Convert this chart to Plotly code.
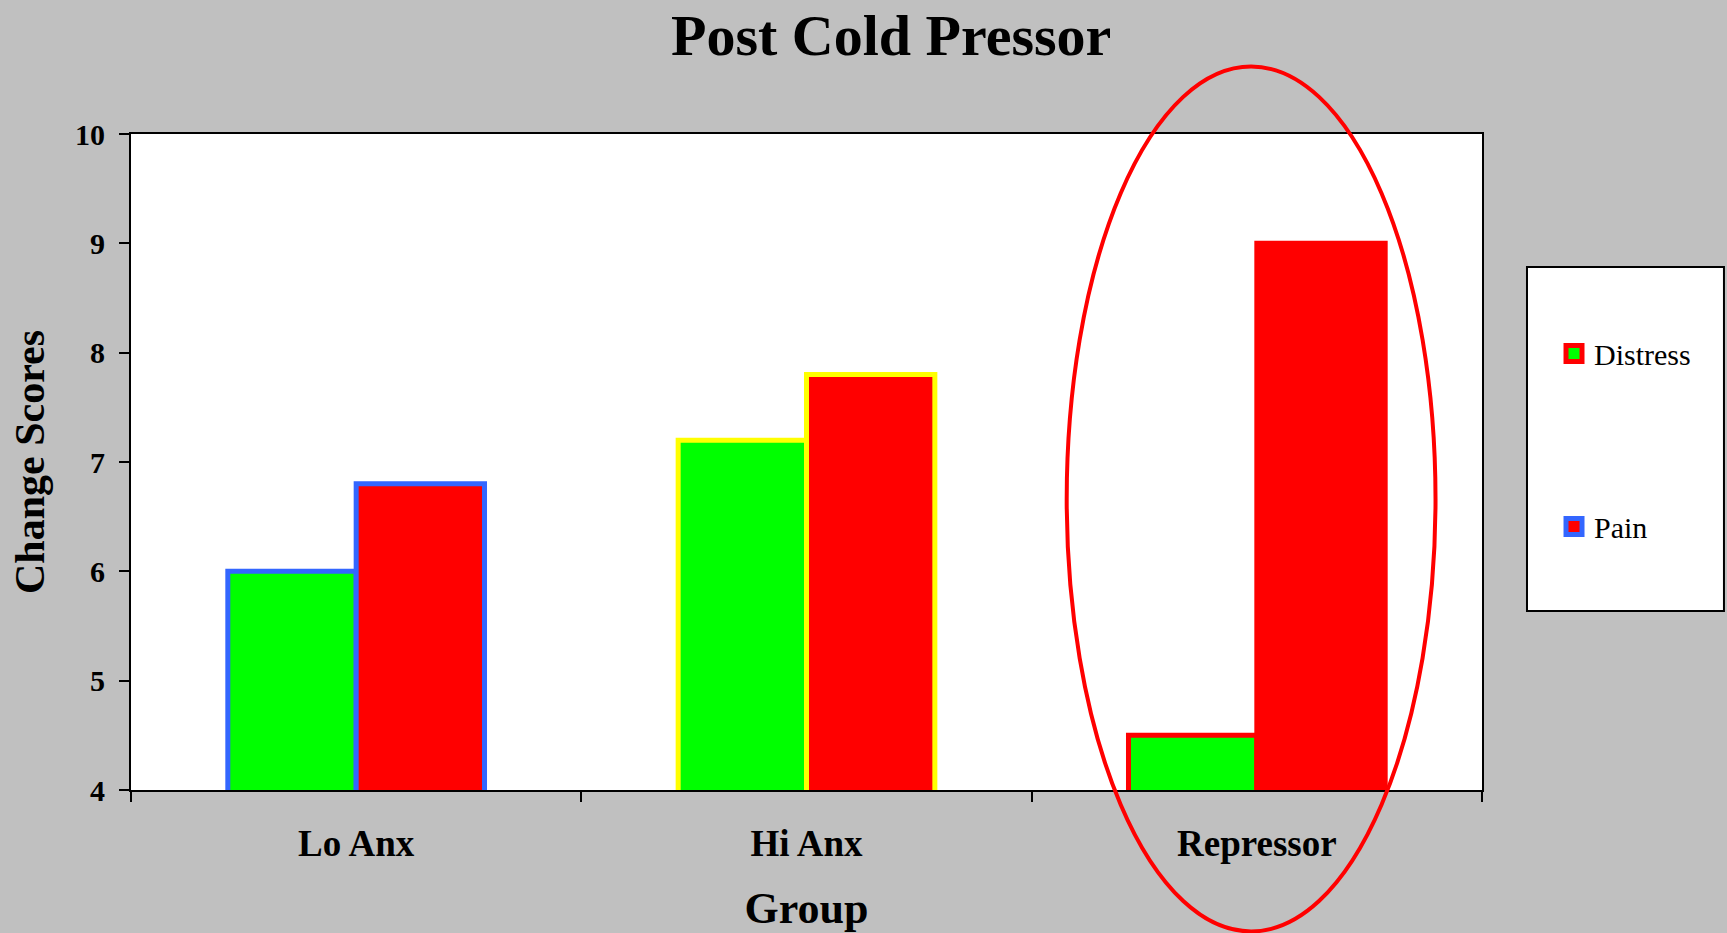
import plotly.graph_objects as go

# Data
groups = ["Lo Anx", "Hi Anx", "Repressor"]
distress = [6.0, 7.2, 4.5]
pain = [6.8, 7.8, 9.0]

# Colours
GREEN = "#00FF00"
RED = "#FF0000"
BLUE = "#3366FF"
YELLOW = "#FFFF00"
GREY = "#C0C0C0"

# Outline colour for each group's pair of bars
group_outline = [BLUE, YELLOW, RED]

SERIF = "Liberation Serif, Times New Roman, serif"

fig = go.Figure()

fig.add_trace(go.Bar(
    x=groups, y=distress, name="Distress", showlegend=False,
    marker=dict(color=GREEN, line=dict(color=group_outline, width=5)),
))
fig.add_trace(go.Bar(
    x=groups, y=pain, name="Pain", showlegend=False,
    marker=dict(color=RED, line=dict(color=group_outline, width=5)),
))

# Legend entries (series fill + series border)
fig.add_trace(go.Scatter(
    x=[None], y=[None], mode="markers", name="Distress", legendgroup="d",
    marker=dict(symbol="square", size=16, color=GREEN, line=dict(color=RED, width=5)),
))
fig.add_trace(go.Scatter(
    x=[None], y=[None], mode="markers", name="Pain", legendgroup="p",
    marker=dict(symbol="square", size=16, color=RED, line=dict(color=BLUE, width=5)),
))

fig.update_layout(
    width=1727, height=933,
    paper_bgcolor=GREY, plot_bgcolor="white",
    margin=dict(l=131, r=245, t=134, b=143, autoexpand=False),
    barmode="group", bargap=0.43, bargroupgap=0,
    font=dict(family=SERIF, color="black"),
    title=dict(
        text="<b>Post Cold Pressor</b>", font=dict(size=58, family=SERIF),
        x=0.516, xanchor="center", y=0.9625, yanchor="middle",
    ),
    showlegend=True,
    legend=dict(
        x=1.0533, xanchor="left", y=0.7049, yanchor="top",
        bgcolor="rgba(0,0,0,0)", borderwidth=0,
        font=dict(size=30, family=SERIF),
        traceorder="grouped", tracegroupgap=131,
    ),
    shapes=[
        # legend frame
        dict(type="rect", xref="paper", yref="paper",
             x0=1.0333, x1=1.1791, y0=0.2729, y1=0.7973,
             line=dict(color="black", width=2), fillcolor="white", layer="below"),
        # highlight ring around the Repressor group
        dict(type="circle", xref="x domain", yref="y domain",
             x0=0.6926, x1=0.9656, y0=-0.2156, y1=1.1029,
             line=dict(color=RED, width=4), layer="above"),
    ],
)

fig.update_xaxes(
    type="category", categoryorder="array", categoryarray=groups,
    range=[-0.5, 2.5], automargin=False,
    tickvals=groups, ticktext=[f"<b>{g}</b>" for g in groups],
    showline=True, linecolor="black", linewidth=2, mirror=True,
    ticks="outside", tickson="boundaries", ticklen=10, tickcolor="black", tickwidth=2,
    tickfont=dict(size=37, family=SERIF), ticklabelstandoff=20,
    title=dict(text="<b>Group</b>", font=dict(size=44, family=SERIF), standoff=30),
    showgrid=False,
)
fig.update_yaxes(
    range=[4, 10], dtick=1, automargin=False,
    showline=True, linecolor="black", linewidth=2, mirror=True,
    ticks="outside", ticklen=10, tickcolor="black", tickwidth=2,
    tickfont=dict(size=30, family=SERIF), ticklabelstandoff=8,
    tickprefix="<b>", ticksuffix="</b>",
    title=dict(text="<b>Change Scores</b>", font=dict(size=42, family=SERIF), standoff=17),
    showgrid=False, zeroline=False,
)

fig.write_html("out.html")
